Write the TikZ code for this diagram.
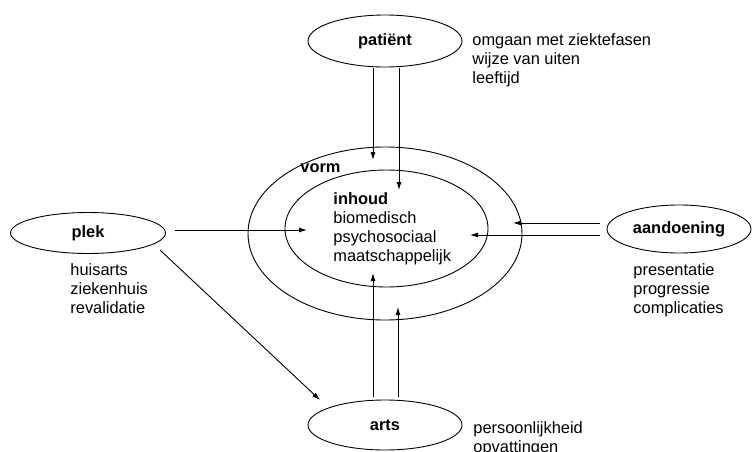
\documentclass[tikz,border=0pt]{standalone}
\usepackage{fontspec}
\setmainfont{Liberation Sans}
\usetikzlibrary{shapes.geometric,arrows.meta}
\begin{document}
\fontsize{16.4}{19}\selectfont
\begin{tikzpicture}[x=1pt,y=-1pt,line width=0.9pt,
  ell/.style={draw,ellipse,inner sep=0pt,font=\fontsize{16.4}{19}\selectfont\bfseries},
  ring/.style={draw,ellipse,inner sep=0pt},
  arr/.style={-{Latex[length=8pt,width=5pt]}},
  lbl/.style={anchor=base west,align=left,inner sep=0pt,font=\fontsize{16.4}{19}\selectfont}]
\useasboundingbox (0,0) rectangle (752,452);
% outer and inner rings
\node[ring,minimum width=274,minimum height=173] (vorm) at (385,233.5) {};
\node[ring,minimum width=203,minimum height=117] (inh) at (386.5,228.5) {};
% satellite ellipses
\node[ell,minimum width=154,minimum height=52] (pat) at (385,41) {patiënt};
\node[ell,minimum width=155,minimum height=41] (plek) at (88,233) {plek};
\node[ell,minimum width=144,minimum height=48] (aan) at (679,229) {aandoening};
\node[ell,minimum width=154,minimum height=50] (arts) at (385,425) {arts};
% labels (anchor = baseline of the last line)
\node[lbl] (vl) at (300,172) {\textbf{vorm}};
\node[lbl] (il) at (333,261) {\textbf{inhoud}\\biomedisch\\psychosociaal\\maatschappelijk};
\node[lbl] (pl) at (472,83) {omgaan met ziektefasen\\wijze van uiten\\leeftijd};
\node[lbl] (kl) at (70,313) {huisarts\\ziekenhuis\\revalidatie};
\node[lbl] (al) at (633,313) {presentatie\\progressie\\complicaties};
\node[lbl] (tl) at (473,452) {persoonlijkheid\\opvattingen};
% connector end points
\coordinate (pa1) at (373,68);  \coordinate (pa1e) at (373,160);
\coordinate (pa2) at (399,68);  \coordinate (pa2e) at (399,190);
\coordinate (pk1) at (175,230); \coordinate (pk1e) at (307,230);
\coordinate (pk2) at (160,250); \coordinate (pk2e) at (320,400);
\coordinate (an1) at (600,223); \coordinate (an1e) at (513,223);
\coordinate (an2) at (600,235); \coordinate (an2e) at (470,235);
\coordinate (ar1) at (373,397); \coordinate (ar1e) at (373,273);
\coordinate (ar2) at (398,397); \coordinate (ar2e) at (398,307);
% connectors
\draw[arr] (pa1) -- (pa1e);
\draw[arr] (pa2) -- (pa2e);
\draw[arr] (pk1) -- (pk1e);
\draw[arr] (pk2) -- (pk2e);
\draw[arr] (an1) -- (an1e);
\draw[arr] (an2) -- (an2e);
\draw[arr] (ar1) -- (ar1e);
\draw[arr] (ar2) -- (ar2e);
\end{tikzpicture}
\end{document}
